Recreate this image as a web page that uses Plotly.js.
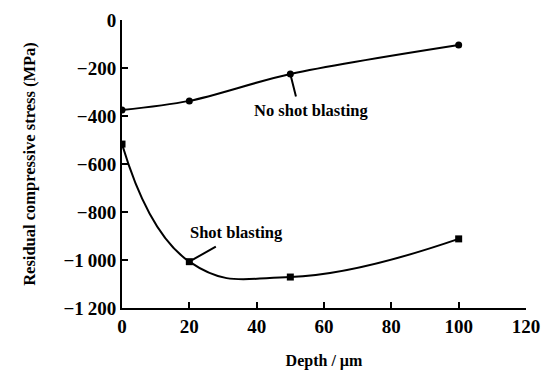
<!DOCTYPE html>
<html><head><meta charset="utf-8">
<script src="https://cdn.plot.ly/plotly-3.0.1.min.js"></script>
<style>html,body{margin:0;padding:0;background:#fff}#c{width:554px;height:391px}</style>
</head><body><div id="c"></div>
<script>
const depth = [0, 20, 50, 100];
const noShot = [-375, -337, -225, -104];
const shot = [-517, -1007, -1071, -912];
const xTicks = [0, 20, 40, 60, 80, 100, 120];
const yTicks = [0, -200, -400, -600, -800, -1000, -1200];
const yTickText = ['0', '\u2212200', '\u2212400', '\u2212600', '\u2212800', '\u22121\u2009000', '\u22121\u2009200'];
const seriesNames = ['No shot blasting', 'Shot blasting'];

const F = '"Liberation Serif", serif';
const traces = [
  {x: depth, y: noShot, mode: 'lines+markers', name: seriesNames[0],
   line: {color: '#000', width: 2, shape: 'spline', smoothing: 0.9},
   marker: {symbol: 'circle', size: 7, color: '#000'}},
  {x: depth, y: shot, mode: 'lines+markers', name: seriesNames[1],
   line: {color: '#000', width: 2, shape: 'spline', smoothing: 1.3},
   marker: {symbol: 'square', size: 7, color: '#000'}}
];
const layout = {
  width: 554, height: 391,
  margin: {l: 122, r: 28, t: 20, b: 83},
  paper_bgcolor: '#fff', plot_bgcolor: '#fff',
  showlegend: false,
  font: {family: F, color: '#000'},
  xaxis: {range: [0, 120], tickvals: xTicks, ticktext: xTicks.map(v => '<b>' + v + '</b>'),
    showgrid: false, zeroline: false, showline: true, linecolor: '#000', linewidth: 2,
    ticks: 'inside', ticklen: 6, tickwidth: 2, tickcolor: '#000',
    tickfont: {family: F, size: 19},
    title: {text: '<b>Depth / \u00b5m</b>', font: {family: F, size: 16}, standoff: 19}},
  yaxis: {range: [-1200, 0], tickvals: yTicks, ticktext: yTickText.map(t => '<b>' + t + '</b>'),
    showgrid: false, zeroline: false, showline: true, linecolor: '#000', linewidth: 2,
    ticks: 'inside', ticklen: 6, tickwidth: 2, tickcolor: '#000',
    tickfont: {family: F, size: 19},
    title: {text: '<b>Residual compressive stress (MPa)</b>', font: {family: F, size: 16.5}, standoff: 24}},
  annotations: [
    {x: depth[2], y: noShot[2], text: '', showarrow: true, arrowhead: 0, arrowwidth: 2, arrowcolor: '#000',
     ax: 6, ay: 24, standoff: 2},
    {x: 56.1, y: -375, text: '<b>' + seriesNames[0] + '</b>', showarrow: false, font: {family: F, size: 16.5}},
    {x: depth[1], y: shot[1], text: '', showarrow: true, arrowhead: 0, arrowwidth: 2, arrowcolor: '#000',
     ax: 28, ay: -16, standoff: 3},
    {x: 33.9, y: -887, text: '<b>' + seriesNames[1] + '</b>', showarrow: false, font: {family: F, size: 16.5}}
  ]
};
Plotly.newPlot('c', traces, layout, {displayModeBar: false, staticPlot: true});
</script></body></html>
